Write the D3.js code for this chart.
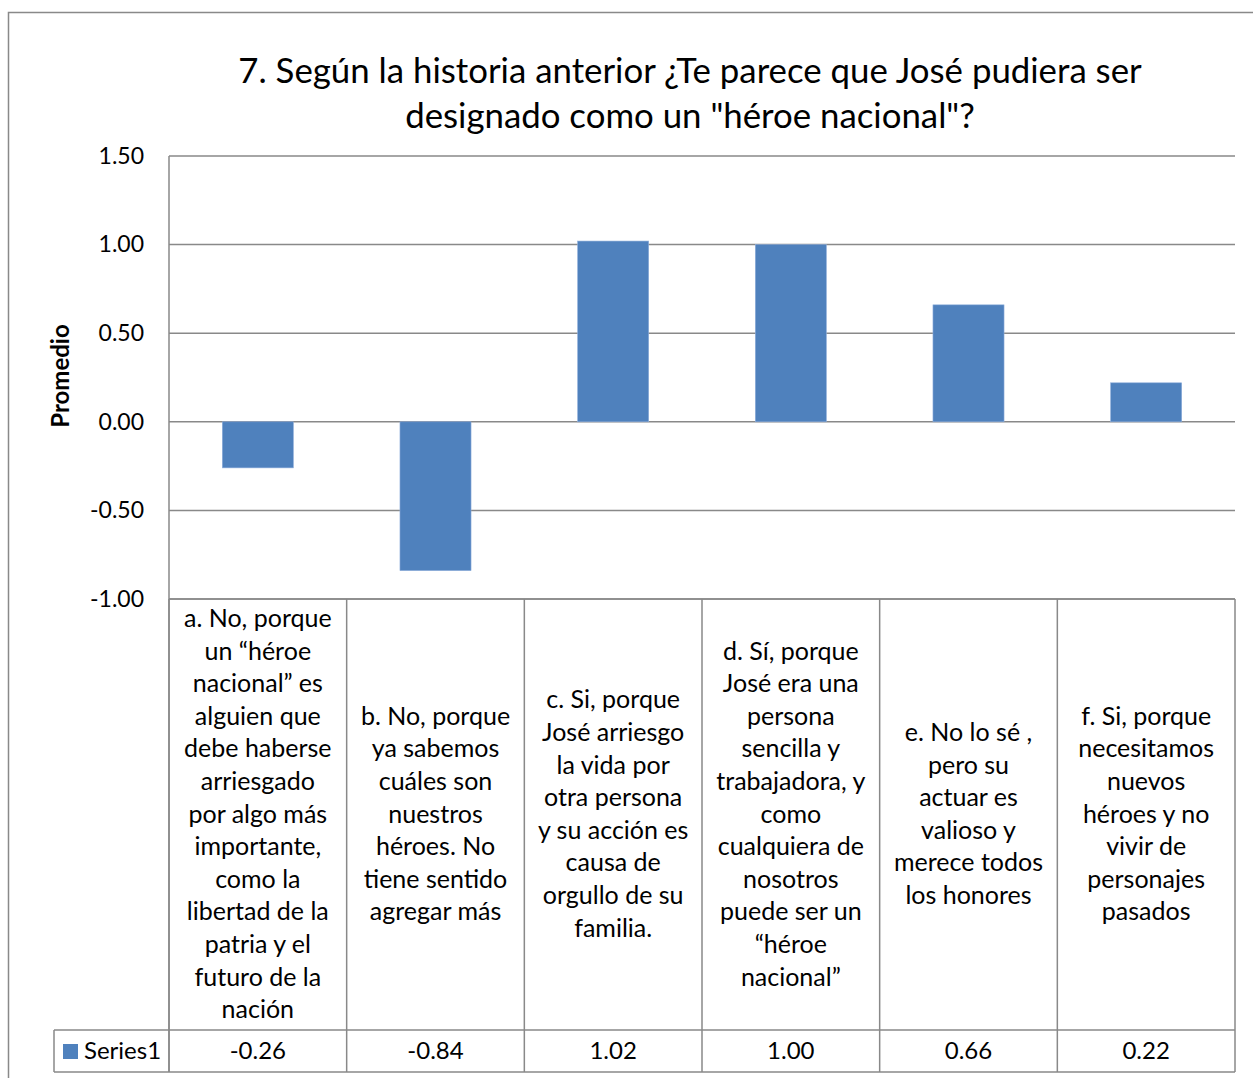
<!DOCTYPE html>
<html>
<head>
<meta charset="utf-8">
<script src="https://cdn.jsdelivr.net/npm/d3@7"></script>
<style>
  body { margin: 0; background: #fff; }
  svg text { font-family: Lato, "Open Sans", sans-serif; fill: #000; }
</style>
</head>
<body>
<div id="chart"></div>
<script>
'use strict';

// chart data
const categories = [
  "a. No, porque\nun “héroe\nnacional” es\nalguien que\ndebe haberse\narriesgado\npor algo más\nimportante,\ncomo la\nlibertad de la\npatria y el\nfuturo de la\nnación",
  "b. No, porque\nya sabemos\ncuáles son\nnuestros\nhéroes. No\ntiene sentido\nagregar más",
  "c. Si, porque\nJosé arriesgo\nla vida por\notra persona\ny su acción es\ncausa de\norgullo de su\nfamilia.",
  "d. Sí, porque\nJosé era una\npersona\nsencilla y\ntrabajadora, y\ncomo\ncualquiera de\nnosotros\npuede ser un\n“héroe\nnacional”",
  "e. No lo sé ,\npero su\nactuar es\nvalioso y\nmerece todos\nlos honores",
  "f. Si, porque\nnecesitamos\nnuevos\nhéroes y no\nvivir de\npersonajes\npasados"
];
const values = [-0.26, -0.84, 1.02, 1.00, 0.66, 0.22];
const seriesName = "Series1";
const yTicks = [-1.00, -0.50, 0.00, 0.50, 1.00, 1.50];
const titleLines = [
  "7. Según la historia anterior ¿Te parece que José pudiera ser",
  "designado como un \"héroe nacional\"?"
];
const yLabel = "Promedio";

const width = 1253, height = 1078;
const plot = { left: 169, right: 1235, top: 156, bottom: 599 };
const tableBottom = 1030, rowBottom = 1072, legendLeft = 54;
const gridColor = '#898989', barColor = '#4f81bd';

// excel style numbers with a plain hyphen
const fmt = d => d3.format('.2f')(d).replace('\u2212', '-');

const svg = d3.select('#chart').append('svg')
  .attr('width', width)
  .attr('height', height);

// outer chart border (extends past the window like the original)
svg.append('rect')
  .attr('x', 8.5).attr('y', 12.5)
  .attr('width', 1270).attr('height', 1090)
  .attr('fill', '#fff')
  .attr('stroke', gridColor)
  .attr('stroke-width', 1.5);

// title
svg.append('g').selectAll('text').data(titleLines).enter()
  .append('text')
  .attr('x', 690)
  .attr('y', (d, i) => 83 + i * 45)
  .attr('text-anchor', 'middle')
  .style('font-size', '34.8px')
  .text(d => d);

const x = d3.scaleBand().domain(d3.range(categories.length)).range([plot.left, plot.right]).padding(0);
const y = d3.scaleLinear().domain([-1, 1.5]).range([plot.bottom, plot.top]);

// left axis labels
const yAxis = d3.axisLeft(y).tickValues(yTicks).tickSize(0).tickPadding(25)
  .tickFormat(fmt);
const yG = svg.append('g')
  .attr('transform', 'translate(' + plot.left + ',0)')
  .call(yAxis);
yG.select('.domain').remove();
yG.selectAll('text')
  .style('font-size', '23px')
  .style('font-family', 'Lato, sans-serif')
  .attr('fill', '#000');

// gridlines
svg.append('g').selectAll('line').data(yTicks).enter()
  .append('line')
  .attr('x1', plot.left).attr('x2', plot.right)
  .attr('y1', d => y(d)).attr('y2', d => y(d))
  .attr('stroke', gridColor).attr('stroke-width', 1.5);

svg.append('line')
  .attr('x1', plot.left).attr('x2', plot.left)
  .attr('y1', plot.top).attr('y2', rowBottom)
  .attr('stroke', gridColor).attr('stroke-width', 1.5);

// y axis title
svg.append('text')
  .attr('transform', 'translate(69,' + 376 + ') rotate(-90)')
  .attr('text-anchor', 'middle')
  .style('font-size', '24px')
  .style('font-weight', 'bold')
  .text(yLabel);

// bars
const barW = x.bandwidth() * 0.4;
svg.append('g').selectAll('rect').data(values).enter()
  .append('rect')
  .attr('x', (d, i) => x(i) + (x.bandwidth() - barW) / 2)
  .attr('y', d => y(Math.max(0, d)))
  .attr('width', barW)
  .attr('height', d => Math.abs(y(d) - y(0)))
  .attr('fill', barColor)
  .attr('stroke', '#8eaedb')
  .attr('stroke-width', 0.6);

// data table
const table = svg.append('g');
const cols = d3.range(categories.length + 1).map(i => plot.left + i * x.bandwidth());
table.selectAll('line.v').data(cols).enter()
  .append('line')
  .attr('class', 'v')
  .attr('x1', d => d).attr('x2', d => d)
  .attr('y1', plot.bottom).attr('y2', rowBottom)
  .attr('stroke', gridColor).attr('stroke-width', 1.5);

[plot.bottom, tableBottom, rowBottom].forEach(yy => {
  table.append('line')
    .attr('x1', yy === plot.bottom ? plot.left : legendLeft).attr('x2', plot.right)
    .attr('y1', yy).attr('y2', yy)
    .attr('stroke', gridColor).attr('stroke-width', 1.5);
});
table.append('line')
  .attr('x1', legendLeft).attr('x2', legendLeft)
  .attr('y1', tableBottom).attr('y2', rowBottom)
  .attr('stroke', gridColor).attr('stroke-width', 1.5);

const lineH = 32.6;
const headMid = (plot.bottom + tableBottom) / 2;
categories.forEach((c, i) => {
  const lines = c.split('\n');
  const t = table.append('text')
    .attr('text-anchor', 'middle')
    .style('font-size', '25px');
  lines.forEach((l, j) => {
    t.append('tspan')
      .attr('x', x(i) + x.bandwidth() / 2)
      .attr('y', headMid + (j - (lines.length - 1) / 2) * lineH + 8)
      .text(l);
  });
});

table.selectAll('text.val').data(values).enter()
  .append('text')
  .attr('class', 'val')
  .attr('x', (d, i) => x(i) + x.bandwidth() / 2)
  .attr('y', (tableBottom + rowBottom) / 2 + 8)
  .attr('text-anchor', 'middle')
  .style('font-size', '24px')
  .text(fmt);

// legend key
table.append('rect')
  .attr('x', 63).attr('y', 1044)
  .attr('width', 15).attr('height', 15)
  .attr('fill', barColor);
table.append('text')
  .attr('x', 84).attr('y', (tableBottom + rowBottom) / 2 + 8)
  .style('font-size', '24px')
  .text(seriesName);
</script>
</body>
</html>
